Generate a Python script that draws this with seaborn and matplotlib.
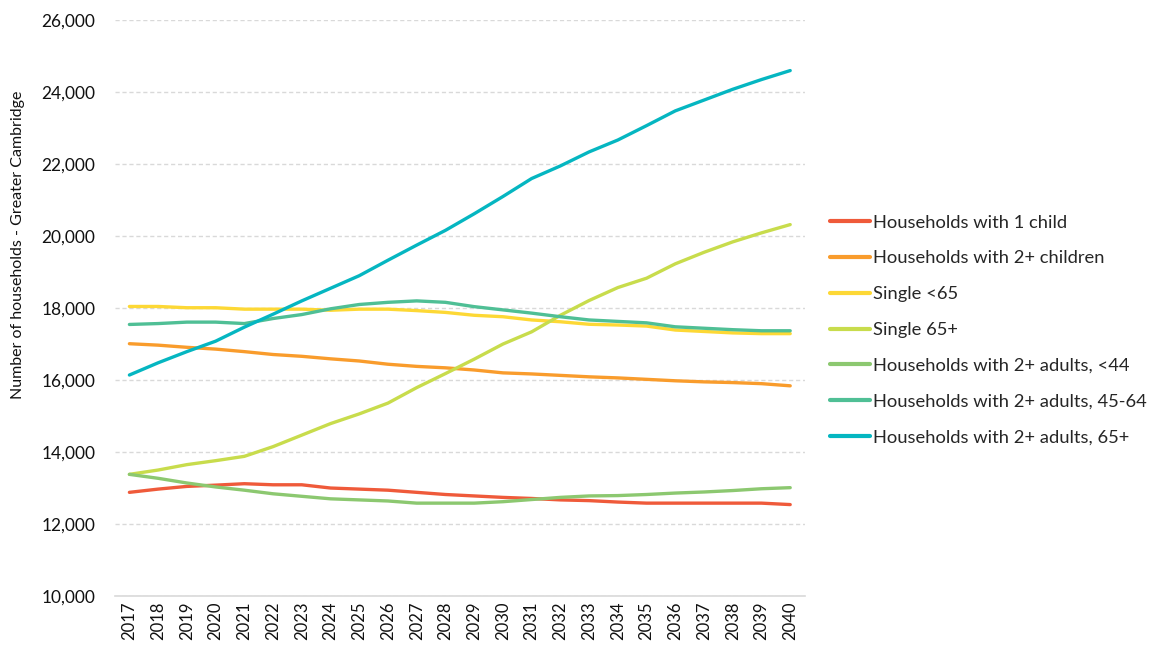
import pandas as pd
import matplotlib
matplotlib.use("Agg")
import matplotlib.pyplot as plt
import seaborn as sns
from matplotlib.ticker import FuncFormatter, MultipleLocator

# === 0. Data ===
years = list(range(2017, 2041))

one_child = [12880, 12970, 13045, 13080, 13120, 13090, 13090, 13000, 12970, 12940, 12880, 12820,
             12780, 12740, 12710, 12670, 12650, 12610, 12580, 12580, 12580, 12580, 12580, 12540]
two_children = [17010, 16970, 16910, 16860, 16790, 16710, 16660, 16590, 16530, 16440, 16380, 16340,
                16280, 16200, 16170, 16130, 16090, 16060, 16020, 15980, 15950, 15930, 15900, 15840]
single_u65 = [18045, 18045, 18010, 18010, 17970, 17970, 17970, 17940, 17970, 17970, 17930, 17880,
              17800, 17760, 17670, 17620, 17550, 17530, 17500, 17390, 17350, 17310, 17290, 17290]
single_65 = [13380, 13500, 13650, 13760, 13880, 14150, 14470, 14790, 15060, 15360, 15790, 16180,
             16580, 17000, 17340, 17800, 18210, 18570, 18830, 19230, 19550, 19840, 20090, 20320]
adults_u44 = [13380, 13270, 13140, 13030, 12940, 12840, 12770, 12700, 12670, 12640, 12580, 12580,
              12580, 12620, 12680, 12740, 12780, 12790, 12820, 12860, 12890, 12930, 12980, 13010]
adults_45_64 = [17545, 17570, 17610, 17610, 17570, 17710, 17820, 17980, 18100, 18160, 18200, 18160,
                18040, 17950, 17860, 17760, 17670, 17630, 17590, 17480, 17440, 17400, 17370, 17370]
adults_65 = [16140, 16480, 16790, 17080, 17470, 17830, 18200, 18550, 18900, 19330, 19750, 20160,
             20620, 21100, 21600, 21950, 22340, 22670, 23070, 23480, 23780, 24080, 24350, 24600]

series_names = [
    "Households with 1 child",
    "Households with 2+ children",
    "Single <65",
    "Single 65+",
    "Households with 2+ adults, <44",
    "Households with 2+ adults, 45-64",
    "Households with 2+ adults, 65+",
]
series_values = [one_child, two_children, single_u65, single_65, adults_u44, adults_45_64, adults_65]
colors = ["#EF5A3A", "#F99C2C", "#FDD835", "#C8DC4C", "#8CC870", "#4FBF95", "#05B6C1"]

df = pd.DataFrame(
    [(y, name, v) for name, vals in zip(series_names, series_values) for y, v in zip(years, vals)],
    columns=["year", "series", "households"],
)

# === 1. Plot ===
sns.set_style("white")
plt.rcParams["font.family"] = ["Lato", "DejaVu Sans"]

fig = plt.figure(figsize=(11.55, 6.51), dpi=100)
ax = fig.add_axes([0.0996, 0.0845, 0.597, 0.8845])

sns.lineplot(data=df, x="year", y="households", hue="series", hue_order=series_names,
             palette=dict(zip(series_names, colors)), linewidth=2.4, ax=ax,
             solid_capstyle="round")

ax.set_xlim(2016.5, 2040.5)
ax.set_ylim(10000, 26000)
ax.yaxis.set_major_locator(MultipleLocator(2000))
ax.yaxis.set_major_formatter(FuncFormatter(lambda v, p: f"{int(v):,}"))
ax.set_xticks(years)
ax.set_xticklabels([str(y) for y in years], rotation=90, fontsize=12, color="#111111")
ax.tick_params(axis="y", labelsize=12.5, colors="#111111", length=0, pad=14)
ax.tick_params(axis="x", length=0, pad=4)

ax.grid(axis="y", color="#d9d9d9", linestyle=(0, (3, 2)), linewidth=1)
ax.grid(axis="x", visible=False)
for side in ["top", "right", "left"]:
    ax.spines[side].set_visible(False)
ax.spines["bottom"].set_color("#d9d9d9")
ax.spines["bottom"].set_linewidth(1.2)

ax.set_xlabel("")
ax.set_ylabel("Number of households - Greater Cambridge", fontsize=11.5, color="#111111")
ax.yaxis.set_label_coords(-0.13, 0.61)

leg = ax.legend(loc="center left", bbox_to_anchor=(0.712, 0.493), bbox_transform=fig.transFigure,
                frameon=False, fontsize=13.2, handlelength=2.2, handletextpad=0.15,
                labelspacing=1.08, borderaxespad=0)
for line in leg.get_lines():
    line.set_linewidth(3)

fig.savefig("out.png", dpi=100)
